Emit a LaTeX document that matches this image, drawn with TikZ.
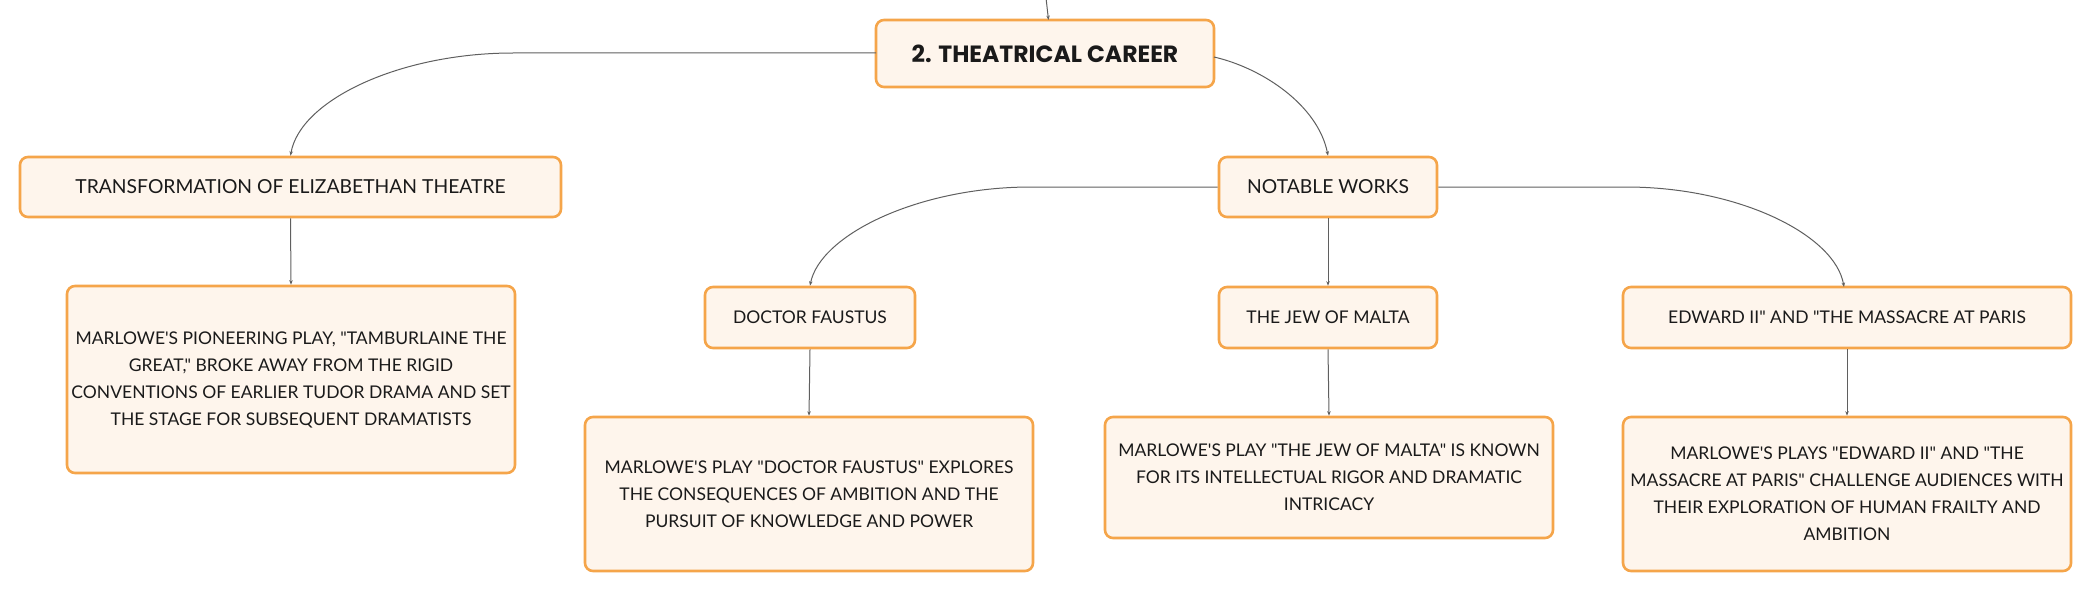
\documentclass[tikz,border=0pt]{standalone}
\usepackage{fontspec}
\setmainfont{Lato}[Ligatures=TeXOff]
\newfontfamily\rootfont{Poppins}[Ligatures=TeXOff]
\usetikzlibrary{arrows.meta}
\definecolor{boxfill}{HTML}{FEF5EC}
\definecolor{boxline}{HTML}{F5A54A}
\definecolor{linkc}{HTML}{5F5F5F}
\definecolor{txt}{HTML}{1A1A1A}
\begin{document}
\begin{tikzpicture}[x=1pt,y=-1pt,
  box/.style={draw=boxline, fill=boxfill, line width=2.6pt, rounded corners=8pt,
    inner sep=0pt, align=center, text=txt, font=\fontsize{17.5}{27}\selectfont},
  lvlone/.style={box, font=\fontsize{19.3}{27}\selectfont},
  link/.style={draw=linkc, line width=1pt, -{Stealth[length=4.5pt,width=3.5pt]}}]
\useasboundingbox (0,0) rectangle (2092,591);
\node[box, minimum width=338pt, minimum height=67pt, font=\rootfont\bfseries\fontsize{23.5}{28}\selectfont] (root) at (1045,53.5) {2. THEATRICAL CAREER};
\node[lvlone, minimum width=541pt, minimum height=60pt] (trans) at (290.5,187) {TRANSFORMATION OF ELIZABETHAN THEATRE};
\node[box, minimum width=448pt, minimum height=187pt] (tamb) at (291,379.5) {MARLOWE'S PIONEERING PLAY, "TAMBURLAINE THE\\GREAT," BROKE AWAY FROM THE RIGID\\CONVENTIONS OF EARLIER TUDOR DRAMA AND SET\\THE STAGE FOR SUBSEQUENT DRAMATISTS};
\node[lvlone, minimum width=218pt, minimum height=60pt] (works) at (1328,187) {NOTABLE WORKS};
\node[box, minimum width=210pt, minimum height=61pt] (faust) at (810,317.5) {DOCTOR FAUSTUS};
\node[box, minimum width=448pt, minimum height=154pt] (faustd) at (809,494) {MARLOWE'S PLAY "DOCTOR FAUSTUS" EXPLORES\\THE CONSEQUENCES OF AMBITION AND THE\\PURSUIT OF KNOWLEDGE AND POWER};
\node[box, minimum width=218pt, minimum height=61pt] (jew) at (1328,317.5) {THE JEW OF MALTA};
\node[box, minimum width=448pt, minimum height=121pt] (jewd) at (1329,477.5) {MARLOWE'S PLAY "THE JEW OF MALTA" IS KNOWN\\FOR ITS INTELLECTUAL RIGOR AND DRAMATIC\\INTRICACY};
\node[box, minimum width=448pt, minimum height=61pt] (edw) at (1847,317.5) {EDWARD II" AND "THE MASSACRE AT PARIS};
\node[box, minimum width=448pt, minimum height=154pt] (edwd) at (1847,494) {MARLOWE'S PLAYS "EDWARD II" AND "THE\\MASSACRE AT PARIS" CHALLENGE AUDIENCES WITH\\THEIR EXPLORATION OF HUMAN FRAILTY AND\\AMBITION};
\coordinate (up) at (1046,-2);
\draw[link] (up) -- (1048.5,20);
\draw[link] (876,53) -- (513,53) .. controls (400,53) and (300,100) .. (trans.north);
\draw[link] (1214,57) .. controls (1262,68) and (1318,105) .. (works.north);
\draw[link] (trans.south) -- (tamb.north);
\draw[link] (works.west) -- (1031,187) .. controls (918,187) and (820,235) .. (faust.north);
\draw[link] (works.south) -- (jew.north);
\draw[link] (works.east) -- (1626,187) .. controls (1739,187) and (1835,235) .. (1844,287);
\draw[link] (faust.south) -- (faustd.north);
\draw[link] (jew.south) -- (jewd.north);
\draw[link] (edw.south) -- (edwd.north);
\end{tikzpicture}
\end{document}
